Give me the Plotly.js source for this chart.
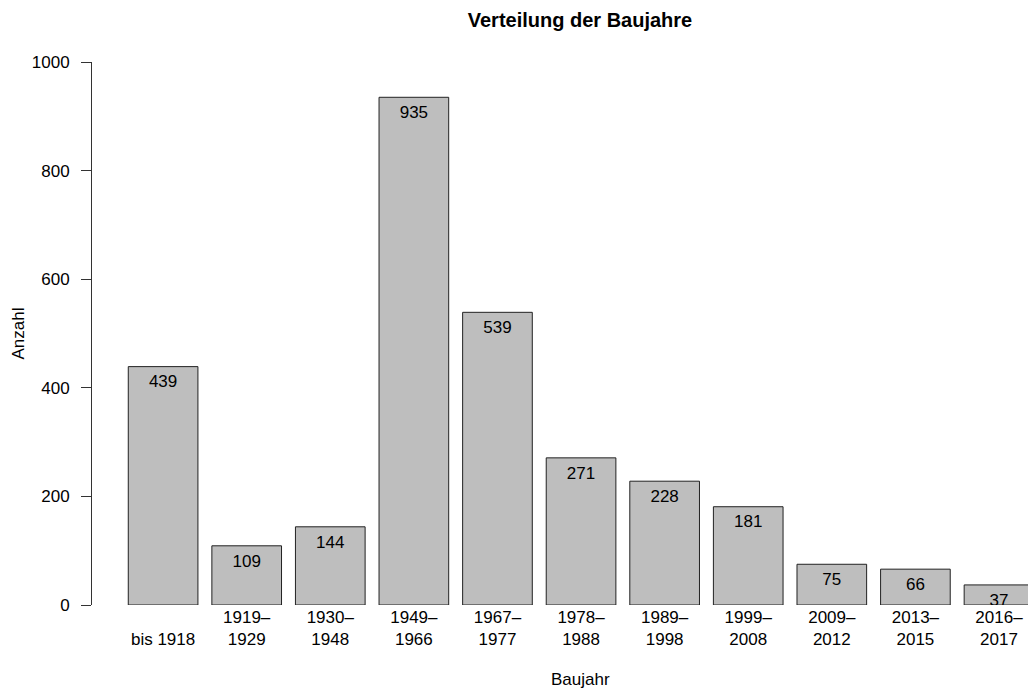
<!DOCTYPE html>
<html>
<head>
<meta charset="utf-8">
<script src="https://cdn.plot.ly/plotly-3.0.1.min.js"></script>
<style>html,body{margin:0;padding:0;background:#fff;}#chart{width:1028px;height:690px;}</style>
</head>
<body>
<div id="chart"></div>
<script>
const categories = ["bis 1918","1919–1929","1930–1948","1949–1966","1967–1977","1978–1988","1989–1998","1999–2008","2009–2012","2013–2015","2016–2017"];
const tickLabels = ["\u00a0<br>bis 1918","1919–<br>1929","1930–<br>1948","1949–<br>1966","1967–<br>1977","1978–<br>1988","1989–<br>1998","1999–<br>2008","2009–<br>2012","2013–<br>2015","2016–<br>2017"];
const counts = [439,109,144,935,539,271,228,181,75,66,37];
const yTicks = [0,200,400,600,800,1000];

const font = "Liberation Sans, Arial, Helvetica, sans-serif";
const pxPerUnit = 543 / 1000;
const labelDrop = 8 / pxPerUnit; // value labels sit a little below the bar top

const bars = {
  type: 'bar', x: categories, y: counts,
  marker: {color: '#BEBEBE', line: {color: '#222', width: 1}},
  hoverinfo: 'skip', showlegend: false
};
const labels = {
  type: 'scatter', mode: 'text', x: categories, y: counts, yaxis: 'y2',
  text: counts.map(String), textposition: 'bottom center',
  textfont: {family: font, size: 17, color: '#000'},
  cliponaxis: true, hoverinfo: 'skip', showlegend: false
};

const layout = {
  width: 1028, height: 690,
  margin: {l: 92, r: 0, t: 62, b: 85},
  paper_bgcolor: '#fff', plot_bgcolor: '#fff',
  font: {family: font, size: 17, color: '#000'},
  bargap: 1 - 1/1.2,
  title: {text: '<b>Verteilung der Baujahre</b>', x: 580/1028, xref: 'container', xanchor: 'center',
          y: 1 - 20/690, yref: 'container', yanchor: 'middle', font: {family: font, size: 20, color: '#000'}},
  xaxis: {
    type: 'category', range: [-0.8506, 10.347],
    tickmode: 'array', tickvals: categories, ticktext: tickLabels,
    ticks: '', showline: false, showgrid: false, zeroline: false,
    tickfont: {family: font, size: 17, color: '#000'}, fixedrange: true
  },
  yaxis: {
    range: [0, 1000], tickmode: 'array', tickvals: yTicks,
    ticks: 'outside', ticklen: 10, tickcolor: '#333', tickwidth: 1,
    showline: true, linecolor: '#333', linewidth: 1,
    showgrid: false, zeroline: false, ticklabelstandoff: 8,
    tickfont: {family: font, size: 17, color: '#000'}, fixedrange: true
  },
  yaxis2: {
    overlaying: 'y', range: [labelDrop, 1000 + labelDrop], visible: false,
    showgrid: false, zeroline: false, fixedrange: true
  },
  annotations: [
    {text: 'Baujahr', xref: 'paper', yref: 'paper', x: (580-92)/936, y: (605-679)/543,
     xanchor: 'center', yanchor: 'middle', showarrow: false, font: {family: font, size: 17, color: '#000'}},
    {text: 'Anzahl', xref: 'paper', yref: 'paper', x: (18-92)/936, y: 0.5, textangle: -90,
     xanchor: 'center', yanchor: 'middle', showarrow: false, font: {family: font, size: 17, color: '#000'}}
  ]
};

Plotly.newPlot('chart', [bars, labels], layout, {staticPlot: true, displayModeBar: false});
</script>
</body>
</html>
